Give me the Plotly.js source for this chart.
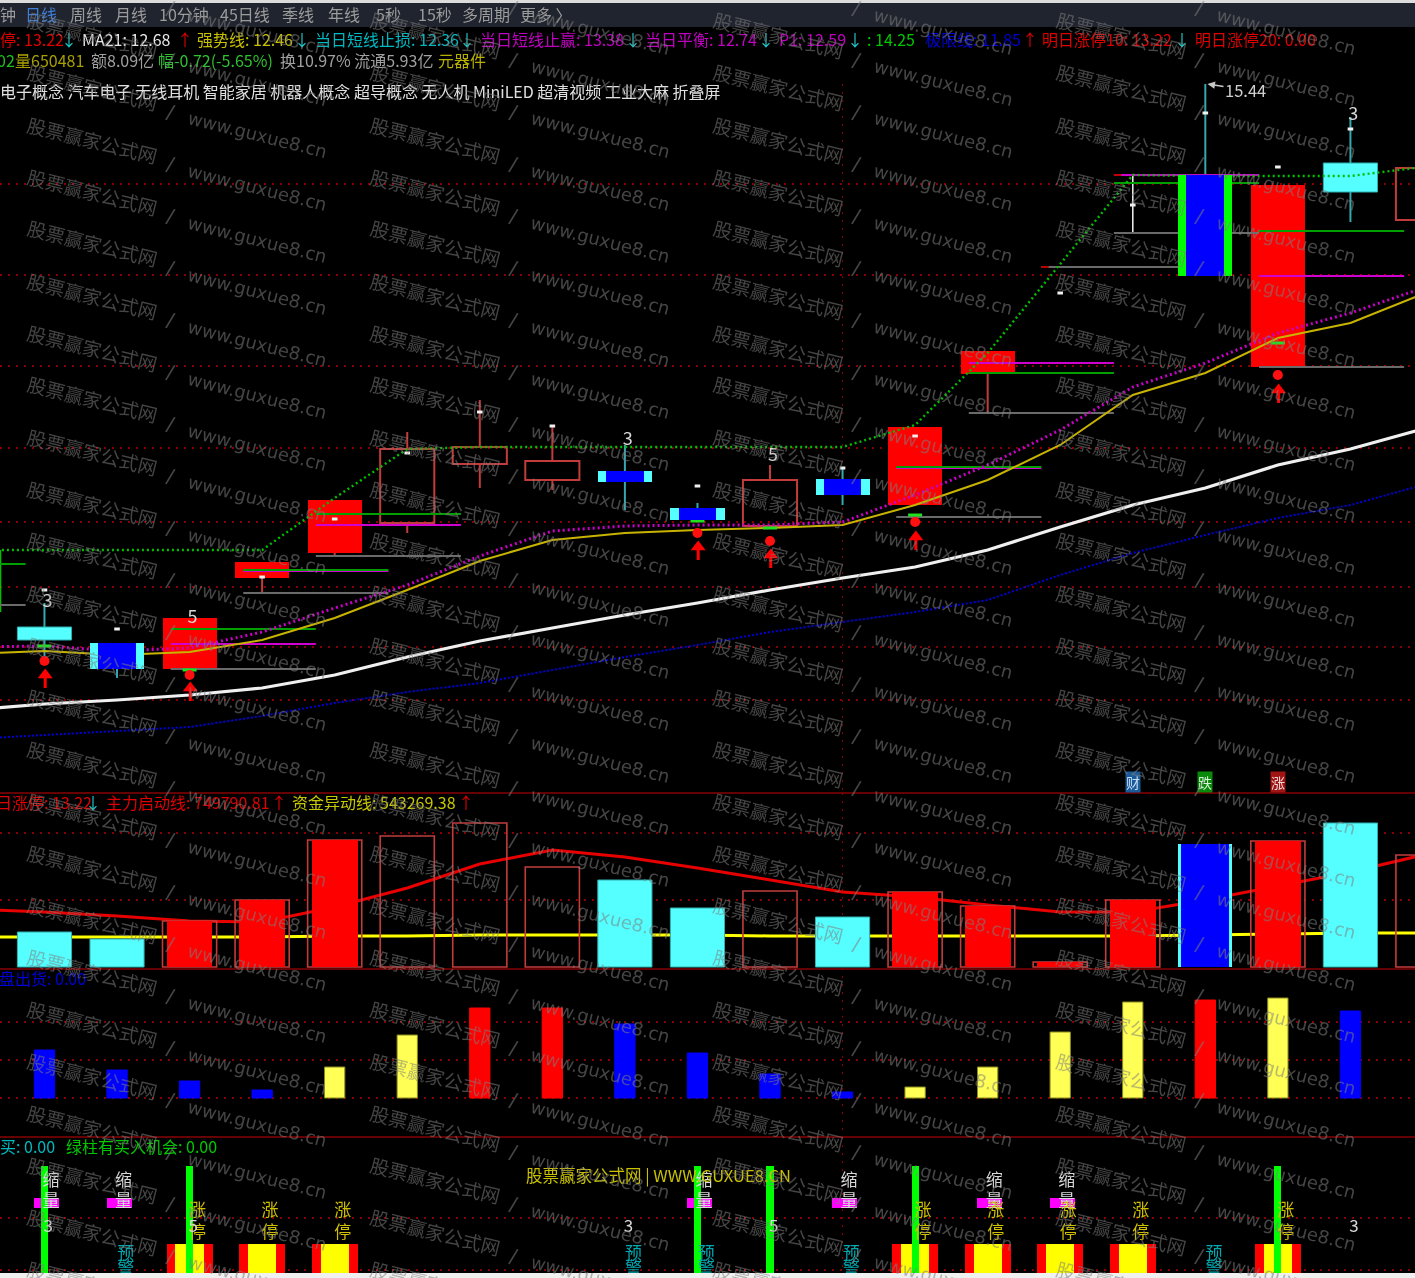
<!DOCTYPE html>
<html><head><meta charset="utf-8">
<script src="https://cdn.plot.ly/plotly-3.0.1.min.js"></script>
<style>html,body{margin:0;padding:0;background:#000;overflow:hidden}#chart{width:1415px;height:1278px;filter:blur(0.45px)}</style>
</head><body><div id="chart"></div>
<script>
// ---------- data ----------
const candleIdx = [0,1,2,3,4,5,6,7,8,9,10,11,12,13,14,15,16,17,18,19];
const candleKind = ['c','e','r','r','r','h','h','h','e','e','h','e','r','r',null,null,'g','r','c','h'];
const bodyTop = [10.01,9.85,10.10,10.66,11.28,11.79,11.81,11.67,11.57,11.20,11.48,11.49,12.01,12.77,null,null,14.53,14.43,14.65,14.60];
const bodyBot = [9.88,9.59,9.59,10.50,10.75,11.05,11.64,11.48,11.46,11.08,11.02,11.33,11.23,12.54,null,null,13.52,12.61,14.36,14.08];
const highs = [10.25,9.85,10.10,10.66,11.28,11.96,12.28,12.01,11.83,11.25,11.63,11.60,12.01,12.77,null,14.53,15.44,14.43,15.11,14.60];
const lows = [9.71,9.50,9.59,10.35,10.72,10.95,11.40,11.38,11.18,11.07,11.02,11.23,11.23,12.15,null,13.95,13.52,12.61,14.06,14.08];
const dashPrice = [10.38,9.99,null,10.51,11.09,11.75,12.16,12.02,null,11.42,null,11.60,11.92,null,13.35,14.23,15.15,14.61,14.99,null];
const prevCandleEdge = [10.78,10.16];

const maIdx = [-1,0,1,2,3,4,5,6,7,8,9,10,11,12,13,14,15,16,17,18,19];
const ma21 = [9.18,9.24,9.28,9.33,9.40,9.53,9.71,9.87,10.00,10.13,10.25,10.38,10.50,10.61,10.78,11.01,11.23,11.40,11.63,11.79,11.99];
const limitLine = [8.89,8.93,8.97,9.01,9.12,9.25,9.36,9.45,9.58,9.71,9.83,9.96,10.06,10.16,10.28,10.53,10.75,10.93,11.10,11.23,11.43];
const strongLine = [9.74,9.77,9.73,9.76,9.88,10.10,10.38,10.67,10.88,10.95,10.98,11.00,11.03,11.23,11.48,11.83,12.33,12.55,12.90,13.05,13.34];
const balanceLine = [9.81,9.82,9.77,9.80,9.96,10.20,10.43,10.72,10.97,11.02,11.03,11.03,11.06,11.33,11.63,11.98,12.41,12.65,12.95,13.15,13.40];
const stepLine = [10.78,10.78,10.78,10.78,10.78,11.30,11.79,11.81,11.81,11.81,11.81,11.81,11.81,12.03,12.75,13.64,14.53,14.52,14.52,14.52,14.61];

const levelIdx = [-2,2,3,4,12,13,14,15,17];
const levelGreen = [10.64,9.99,10.58,11.14,11.61,12.55,null,14.45,13.97];
const levelMagenta = [null,9.84,10.57,11.03,11.60,12.65,null,14.53,13.52];
const levelGrey = [10.23,9.59,10.35,10.72,11.11,12.15,13.61,13.95,12.61];

const signalIdx = [0,2,9,10,12,17];
const signalDot = [9.67,9.53,10.95,10.87,11.06,12.53];
const signalTip = [9.58,9.45,10.86,10.78,10.96,12.43];
const signalDash = [9.82,9.58,11.07,11.0,11.13,12.85];
const topDotIdx = [2,3,4,5,6,7,8,9,12,13,14,15,16,17];
const topDotPrice = 15.48;
const digitIdx = [0,2,8,10,18];
const digitLabels = ['3','5','3','5','3'];
const digitPrice = [10.26,10.10,11.88,11.72,15.13];
const gridPrices = [15.44,14.44,13.53,12.62,11.80,11.06,10.41,9.81,9.28];

const volume = [525000,420000,690000,1005000,1905000,1965000,2160000,1500000,1305000,885000,1140000,750000,1125000,915000,75000,1005000,1845000,1890000,2160000,1680000];
const volKind = ['c','c','r','r','r','h','h','h','c','c','h','c','r','r','r','r','b','r','c','h'];
const mainForce = [870000,825000,765000,690000,675000,900000,1185000,1545000,1755000,1650000,1485000,1305000,1125000,1050000,930000,825000,825000,1005000,1215000,1425000,1680000];
const capitalLine = [450000,450000,450000,450000,450000,465000,465000,480000,480000,480000,480000,465000,465000,465000,465000,465000,465000,480000,495000,510000,510000];
const volGrid = [2010000,1005000];

const shipIdx = [0,1,2,3,4,5,6,7,8,9,10,11,12,13,14,15,16,17,18];
const shipValue = [48,28,17,8,31,63,90,90,74,45,24,6,11,31,66,96,98,100,87];
const shipKind = ['b','b','b','b','y','y','r','r','b','b','b','b','y','y','y','y','r','y','b'];
const shipGrid = [0,38,76];

const limitUpIdx = [2,3,4,12,13,14,15,17];
const greenBarIdx = [0,2,9,10,12,17];
const shrinkIdx = [0,1,9,11,13,14];
const warnIdx = [1,8,9,11,16];
const digit4Idx = [0,2,8,10,18];
const limitUpHeight = 34, greenBarHeight = 112, shrinkBase = 70, shrinkHeight = 10;
const lowerGrid = [60,8];

// ---------- helpers ----------
const FONT = '"Noto Sans CJK SC","Noto Sans",sans-serif';
const W = 1415, H = 1278;
const dom = (topPx, botPx) => [(H - botPx) / H, (H - topPx) / H];

function bars(xs, base, y, width, color, yaxis, extra) {
  return Object.assign({type:'bar', x:xs, y:y, base:base, width:width, yaxis:yaxis, xaxis:'x',
    marker:{color:color, line:{width:0}}, hoverinfo:'skip', showlegend:false}, extra || {});
}
function line(x, y, color, width, dash, yaxis) {
  return {type:'scatter', mode:'lines', x:x, y:y, yaxis:yaxis||'y', xaxis:'x', connectgaps:false,
    line:{color:color, width:width, dash:dash||'solid'}, hoverinfo:'skip', showlegend:false};
}
function marks(x, y, symbol, size, color, lw, yaxis) {
  return {type:'scatter', mode:'markers', x:x, y:y, yaxis:yaxis||'y', xaxis:'x', cliponaxis:false,
    marker:{symbol:symbol, size:size, color:color, line:{color:color, width:lw||0}}, hoverinfo:'skip', showlegend:false};
}
function texts(x, y, t, size, color, yaxis) {
  return {type:'scatter', mode:'text', x:x, y:y, text:t, yaxis:yaxis, xaxis:'x', cliponaxis:false,
    textposition:'middle center', textfont:{family:FONT, size:size, color:color}, hoverinfo:'skip', showlegend:false};
}

const traces = [];
// ---------- main pane ----------
const BODY = 0.746, EDGE_IN = 0.52;
function bodyTrace(kinds, w, color, yaxis, lineCfg) {
  const ids = candleIdx.filter(i => kinds.includes(candleKind[i]));
  const t = bars(ids, ids.map(i => bodyBot[i]), ids.map(i => bodyTop[i] - bodyBot[i]), w, color, yaxis);
  if (lineCfg) t.marker.line = lineCfg;
  return t;
}
traces.push(bodyTrace(['r'], BODY, '#ff0000', 'y'));
traces.push(bodyTrace(['h'], BODY, 'rgba(0,0,0,0)', 'y', {color:'#c23c3c', width:2}));
traces.push(bodyTrace(['c'], BODY, '#55ffff', 'y', {color:'#30b0b0', width:1}));
traces.push(bodyTrace(['e'], BODY, '#55ffff', 'y6'));
traces.push(bodyTrace(['g'], BODY, '#00ff00', 'y6'));
traces.push(bodyTrace(['e','g'], EDGE_IN, '#0000ff', 'y6'));

function wicks(kinds, color, width) {
  const xs = [], ys = [];
  candleIdx.forEach(i => {
    if (!kinds.includes(candleKind[i]) || highs[i] == null) return;
    if (bodyTop[i] == null) { xs.push(i,i,null); ys.push(highs[i],lows[i],null); return; }
    if (highs[i] > bodyTop[i]) { xs.push(i,i,null); ys.push(highs[i],bodyTop[i],null); }
    if (lows[i] < bodyBot[i]) { xs.push(i,i,null); ys.push(bodyBot[i],lows[i],null); }
  });
  return line(xs, ys, color, width);
}
traces.push(wicks(['r','h'], '#c23c3c', 2));
traces.push(wicks(['c','e','g'], '#35a8b0', 2));
traces.push(wicks([null], '#e8e8e8', 1.6));
traces.push(line([-0.609,-0.609], prevCandleEdge, '#00c000', 2));

function levels(arr, color) {
  const xs = [], ys = [];
  levelIdx.forEach((i,k) => { if (arr[k] != null) { xs.push(i-0.26,i+1.74,null); ys.push(arr[k],arr[k],null); } });
  return line(xs, ys, color, 2);
}
traces.push(levels(levelGrey, '#6a6a6a'));
traces.push(levels(levelMagenta, '#d000d0'));
traces.push(levels(levelGreen, '#00a000'));
traces.push(line([13.74,13.84,null,14.74,14.84], [13.61,13.61,null,14.53,14.53], '#c00000', 2));

traces.push(line(maIdx, limitLine, '#0000d8', 2, '2px,2px'));
traces.push(line(maIdx, strongLine, '#c8b400', 2));
traces.push(line(maIdx, balanceLine, '#c800c8', 3, '2px,3px'));
traces.push(line(maIdx, ma21, '#f0f0f0', 3.2));
traces.push(line(maIdx, stepLine, '#00c000', 2.4, '2px,3px'));

traces.push(marks(candleIdx.filter(i=>dashPrice[i]!=null), dashPrice.filter(v=>v!=null), 'line-ew', 4, '#f0f0f0', 3));
traces.push(marks(signalIdx, signalDash, 'line-ew', 10, '#20e020', 3));
traces.push(marks(signalIdx, signalDot, 'circle', 10, '#ff1010'));
const stemX = [], stemY = [];
signalIdx.forEach((i,k) => { stemX.push(i+0.01,i+0.01,null); stemY.push(signalTip[k]-0.04,signalTip[k]-0.18,null); });
traces.push(line(stemX, stemY, '#ff0000', 3));
traces.push(marks(signalIdx.map(i=>i+0.01), signalTip.map(v=>v-0.05), 'triangle-up', 13, '#ff0000'));
traces.push(marks(topDotIdx, topDotIdx.map(()=>topDotPrice), 'square', 5, '#ff00ff'));
traces.push(texts(digitIdx.map(i=>i+0.04), digitPrice, digitLabels, 18, '#d8d8d8', 'y'));

// ---------- volume pane: lines below, bars on an overlaying axis ----------
traces.push(line(maIdx, mainForce, '#e80000', 3, 'solid', 'y2'));
traces.push(line(maIdx, capitalLine, '#ffff00', 3, 'solid', 'y2'));
function volBars(kinds, w, color, lineCfg) {
  const ids = candleIdx.filter(i => kinds.includes(volKind[i]));
  const t = bars(ids, ids.map(()=>0), ids.map(i=>volume[i]), w, color, 'y5');
  if (lineCfg) t.marker.line = lineCfg;
  return t;
}
traces.push(volBars(['r','h'], BODY, 'rgba(0,0,0,0)', {color:'#c23c3c', width:1.6}));
traces.push(volBars(['r'], 0.63, '#ff0000'));
traces.push(volBars(['c'], BODY, '#55ffff', {color:'#30b0b0', width:1}));
traces.push(volBars(['b'], BODY, '#55ffff'));
traces.push(volBars(['b'], 0.66, '#0000ff'));

// ---------- third pane ----------
[['b','#0000ff','#0000ff'],['y','#ffff55','#8a8a20'],['r','#ff0000','#ff0000']].forEach(([k,c,lc]) => {
  const ids = shipIdx.filter(i => shipKind[i] === k);
  const t = bars(ids, ids.map(()=>0), ids.map(i=>shipValue[i]), 0.28, c, 'y3');
  t.marker.line = {color:lc, width:1};
  traces.push(t);
});

// ---------- fourth pane ----------
const zeros = a => a.map(()=>0);
traces.push(bars(limitUpIdx, zeros(limitUpIdx), limitUpIdx.map(()=>limitUpHeight), 0.635, '#ff0000', 'y4'));
traces.push(bars(limitUpIdx, zeros(limitUpIdx), limitUpIdx.map(()=>limitUpHeight), 0.39, '#ffff00', 'y4'));
traces.push(bars(shrinkIdx.map(i=>i+0.03), shrinkIdx.map(()=>shrinkBase), shrinkIdx.map(()=>shrinkHeight), 0.345, '#ff00ff', 'y4'));
traces.push(bars(greenBarIdx, zeros(greenBarIdx), greenBarIdx.map(()=>greenBarHeight), 0.097, '#00ff00', 'y4'));
const OFF = 0.11;
traces.push(texts(shrinkIdx.map(i=>i+0.09), shrinkIdx.map(()=>96), shrinkIdx.map(()=>'缩'), 17, '#d8d8d8', 'y4'));
traces.push(texts(shrinkIdx.map(i=>i+0.09), shrinkIdx.map(()=>75), shrinkIdx.map(()=>'量'), 17, '#d8d8d8', 'y4'));
traces.push(texts(limitUpIdx.map(i=>i+OFF), limitUpIdx.map(()=>66), limitUpIdx.map(()=>'涨'), 17, '#d0c000', 'y4'));
traces.push(texts(limitUpIdx.map(i=>i+OFF), limitUpIdx.map(()=>44), limitUpIdx.map(()=>'停'), 17, '#d0c000', 'y4'));
traces.push(texts(warnIdx.map(i=>i+0.12), warnIdx.map(()=>23), warnIdx.map(()=>'预'), 17, '#00a8b0', 'y4'));
traces.push(texts(warnIdx.map(i=>i+0.12), warnIdx.map(()=>8), warnIdx.map(()=>'警'), 17, '#00a8b0', 'y4'));
traces.push(texts(digit4Idx.map(i=>i+0.05), digit4Idx.map(()=>50), digitLabels, 17, '#d8d8d8', 'y4'));

// ---------- text ----------
const anns = [];
function hdr(t, x, y, color, size) {
  anns.push({xref:'paper', yref:'paper', x:(x-2)/W, y:1-(y-2)/H, xanchor:'left', yanchor:'middle', showarrow:false,
    text:t, font:{family:FONT, size:size||16, color:color}});
}
const GREY='#9c9c9c', CY='#20c8c8', RD='#e00000', MG='#c000c0', TE='#00b8c0', YL='#c8c000';
[['钟',0,GREY],['日线',25,'#3f7fd8'],['周线',70,GREY],['月线',115,GREY],['10分钟',159,GREY],['45日线',220,GREY],['季线',282,GREY],
 ['年线',328,GREY],['5秒',376,GREY],['15秒',418,GREY],['多周期',462,GREY],['更多 〉',520,GREY]]
 .forEach(a=>hdr(a[0],a[1],16,a[2]));
[['停: 13.22',0,RD],['↓',61,CY],['MA21: 12.68',82,'#e8e8e8'],['↑',177,RD],['强势线: 12.46',197,YL],['↓',294,CY],
 ['当日短线止损: 12.36',315,TE],['↓',459,CY],['当日短线止赢: 13.38',480,MG],['↓',625,CY],['当日平衡: 12.74',645,MG],['↓',758,CY],
 ['P1: 12.59',779,MG],['↓',847,CY],[': 14.25',867,'#00c800'],['极限线: 11.85',925,'#0000d8'],['↑',1022,RD],
 ['明日涨停10: 13.22',1042,RD],['↓',1174,CY],['明日涨停20: 0.00',1195,RD]]
 .forEach(a=>hdr(a[0],a[1],41,a[2]));
[['02',-3,'#20c020'],['量650481',15,'#a8a000'],['额8.09亿',91,'#a0a0a0'],['幅-0.72(-5.65%)',158,'#30c030'],
 ['换10.97% 流通5.93亿',280,'#a0a0a0'],['元器件',438,'#b8b000']].forEach(a=>hdr(a[0],a[1],62,a[2]));
hdr('电子概念 汽车电子 无线耳机 智能家居 机器人概念 超导概念 无人机 MiniLED 超清视频 工业大麻 折叠屏',0,93,'#e0e0e0');
[['日涨停: 13.22',-4,RD],['↓',85,CY],['主力启动线: 749790.81',106,RD],['↑',271,RD],['资金异动线: 543269.38',292,'#c8c800'],['↑',458,RD]]
 .forEach(a=>hdr(a[0],a[1],804,a[2]));
hdr('盘出货: 0.00',-1,980,'#0000d8');
hdr('买: 0.00',0,1148,'#00b8c0');
hdr('绿柱有买入机会: 0.00',66,1148,'#00c800');
hdr('股票赢家公式网 | WWW.GUXUE8.CN',526,1177,'#c8c000',16.5);

anns.push({xref:'x', yref:'y', x:16.03, y:15.44, ax:38, ay:6, showarrow:true, arrowhead:2, arrowsize:1, arrowwidth:1.5,
  arrowcolor:'#c8c8c8', text:'15.44', font:{family:FONT, size:16.5, color:'#d0d0d0'}});

[['财',15,'#1a5a9a','#c8dcf0'],['跌',16,'#0a8a0a','#d8f0d8'],['涨',17,'#a01414','#f0d8d8']].forEach(a=>{
  anns.push({xref:'x', yref:'paper', x:a[1], y:1-782/H, showarrow:false, text:a[0], bgcolor:a[2], borderpad:0,
    font:{family:FONT, size:14, color:a[3]}});
});

// watermark grid
const WM='rgba(125,125,125,0.55)';
for (let r=0; r<25; r++) {
  [0,1,2,3].forEach(c=>{
    const common={xref:'paper', yref:'paper', showarrow:false, textangle:14, xanchor:'center', yanchor:'middle'};
    anns.push(Object.assign({},common,{x:(92+343*c)/W, y:1-(33+52*r+2)/H, text:'股票赢家公式网', font:{family:FONT,size:19,color:WM}}));
    anns.push(Object.assign({},common,{x:(257+343*c)/W, y:1-(29+52*r+2)/H, text:'www.guxue8.cn', font:{family:'"DejaVu Sans",sans-serif',size:18,color:WM}}));
    anns.push(Object.assign({},common,{x:(170+343*c)/W, y:1-(6+52*r+2)/H, text:'/', font:{family:'"DejaVu Sans",sans-serif',size:20,color:WM}}));
  });
}

// ---------- layout ----------
const hidden = {showticklabels:false, ticks:'', zeroline:false, showline:false, fixedrange:true};
const grid = {showgrid:true, gridcolor:'#8a0000', griddash:'2px,6px', gridwidth:1.5};
const mainRange = [8.35, 15.44], volRange = [-15000, 2610000];
const layout = {
  width:W, height:H, autosize:false, margin:{l:0,r:0,t:0,b:0,pad:0},
  paper_bgcolor:'#000', plot_bgcolor:'#000', barmode:'overlay', bargap:0, showlegend:false, hovermode:false,
  xaxis:Object.assign({}, hidden, grid, {range:[-0.613,18.89], domain:[0,1], tickmode:'array', tickvals:[11], anchor:'y4'}),
  yaxis:Object.assign({}, hidden, grid, {domain:dom(84,793), range:mainRange, tickmode:'array', tickvals:gridPrices}),
  yaxis6:Object.assign({}, hidden, {overlaying:'y', range:mainRange, showgrid:false}),
  yaxis2:Object.assign({}, hidden, grid, {domain:dom(793,968), range:volRange, tickmode:'array', tickvals:volGrid}),
  yaxis5:Object.assign({}, hidden, {overlaying:'y2', range:volRange, showgrid:false}),
  yaxis3:Object.assign({}, hidden, grid, {domain:dom(968,1137), range:[-39,130], tickmode:'array', tickvals:shipGrid}),
  yaxis4:Object.assign({}, hidden, grid, {domain:dom(1137,1278), range:[0,141], tickmode:'array', tickvals:lowerGrid}),
  annotations:anns,
  shapes:[
    {type:'rect',xref:'paper',yref:'paper',x0:0,x1:1,y0:1-27/H,y1:1,fillcolor:'#20242e',line:{width:0}},
    {type:'rect',xref:'paper',yref:'paper',x0:0,x1:1,y0:1-3/H,y1:1,fillcolor:'#dcdcdc',line:{width:0}},
    {type:'rect',xref:'paper',yref:'paper',x0:0,x1:1,y0:0,y1:5/H,fillcolor:'#f0f0f0',line:{width:0}},
    {type:'line',xref:'paper',yref:'paper',x0:0,x1:1,y0:1-793/H,y1:1-793/H,line:{color:'#8a0000',width:1.5}},
    {type:'line',xref:'paper',yref:'paper',x0:0,x1:1,y0:1-969/H,y1:1-969/H,line:{color:'#8a0000',width:1.5}},
    {type:'line',xref:'paper',yref:'paper',x0:0,x1:1,y0:1-1137/H,y1:1-1137/H,line:{color:'#8a0000',width:1.5}}
  ]
};
Plotly.newPlot('chart', traces, layout, {displayModeBar:false, staticPlot:true});
</script></body></html>
